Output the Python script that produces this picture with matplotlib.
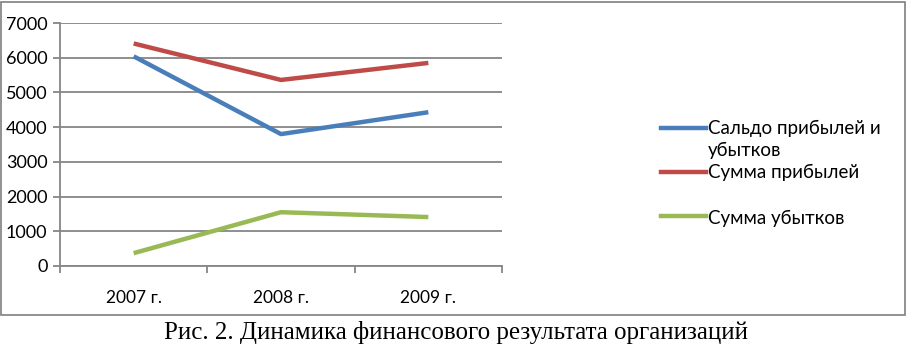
import matplotlib
matplotlib.use("Agg")
import matplotlib.pyplot as plt
from matplotlib.lines import Line2D
from matplotlib.patches import Rectangle

categories = ["2007 г.", "2008 г.", "2009 г."]
saldo = [6040, 3800, 4430]
profits = [6410, 5360, 5850]
losses = [370, 1550, 1410]
colors = ["#4A7EBB", "#BE4B48", "#98B954"]
yticks = [0, 1000, 2000, 3000, 4000, 5000, 6000, 7000]

W, H = 909, 352
fig = plt.figure(figsize=(W / 100, H / 100), dpi=100)
fig.patch.set_facecolor("white")

# outer frame of chart
fig.add_artist(Rectangle((1 / W, 1 - 315 / H), 904 / W, 313 / H, transform=fig.transFigure,
                         fill=False, edgecolor="#7f7f7f", linewidth=1.2))

ax = fig.add_axes([60 / W, 1 - 266 / H, (502 - 60) / W, (266 - 23) / H])
x = [0, 1, 2]
for vals, c in zip([saldo, profits, losses], colors):
    ax.plot(x, vals, color=c, linewidth=3.2, solid_capstyle="butt")

ax.set_xlim(-0.5, 2.5)
ax.set_ylim(0, 7000)
ax.set_yticks(yticks)
ax.set_yticklabels([str(v) for v in yticks], fontsize=13, family="Lato")
ax.yaxis.grid(True, color="#868686", linewidth=1.3)
ax.set_axisbelow(True)
ax.set_xticks(x)
ax.set_xticklabels(categories, fontsize=12.5, family="Lato")
ax.tick_params(axis="x", length=0, pad=17)
ax.set_xticks([-0.5, 0.5, 1.5, 2.5], minor=True)
ax.tick_params(axis="x", which="minor", length=5, color="#868686", width=1.3)
ax.tick_params(axis="y", length=5, color="#868686", width=1.3, pad=4)
for s in ["top", "right"]:
    ax.spines[s].set_visible(False)
ax.spines["left"].set_color("#868686")
ax.spines["bottom"].set_color("#868686")
ax.spines["left"].set_linewidth(1.3)
ax.spines["bottom"].set_linewidth(1.3)

# legend drawn manually (Excel-style layout)
leg_y = [128, 172, 216]
text_y = [[128, 150], [172], [218]]
labels_lines = [["Сальдо прибылей и", "убытков"], ["Сумма прибылей"], ["Сумма убытков"]]
for ly, tys, lines, c in zip(leg_y, text_y, labels_lines, colors):
    fig.add_artist(Line2D([661 / W, 706 / W], [1 - ly / H, 1 - ly / H], transform=fig.transFigure,
                          color=c, linewidth=3.2))
    for ty, t in zip(tys, lines):
        fig.text(708 / W, 1 - ty / H, t, fontsize=13.5, family="Lato", va="center", ha="left")

fig.text(0.502, 1 - 332 / H, "Рис. 2. Динамика финансового результата организаций",
         fontsize=18, family="Liberation Serif", ha="center", va="center")

fig.savefig("out.png", dpi=100)
